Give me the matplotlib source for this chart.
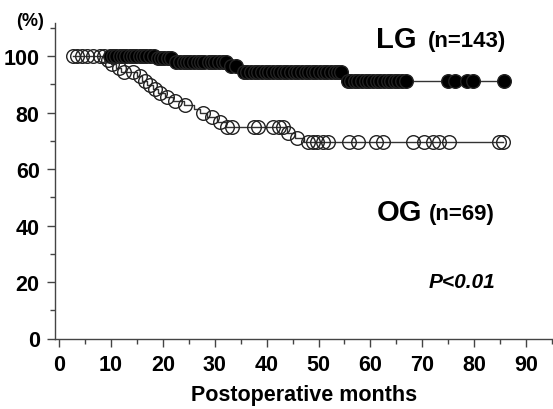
import numpy as np
import matplotlib.pyplot as plt
from matplotlib.ticker import MultipleLocator

plt.rcParams['font.family'] = ['Liberation Sans', 'DejaVu Sans']

# Kaplan-Meier steps: event times and survival (%) after each event
lg_event_t = [18.9, 22.4, 33.0, 35.5, 54.6]
lg_event_s = [99.3, 97.8, 96.4, 94.5, 91.3]
og_event_t = [8.8, 9.9, 11.0, 12.0, 15.0, 16.0, 17.0, 18.0, 19.0, 20.5,
              22.0, 24.0, 26.0, 27.2, 28.5, 30.5, 32.2, 44.0, 45.5, 47.2]
og_event_s = [98.6, 97.1, 95.7, 94.2, 92.8, 91.3, 89.9, 88.4, 87.0, 85.5,
              84.1, 82.6, 81.2, 79.7, 78.3, 76.8, 74.8, 72.8, 71.0, 69.5]

# follow-up marks (months)
lg_marks = [9.8, 10.4, 11.0, 11.7, 12.3, 12.9, 13.6, 14.2, 14.9, 15.5, 16.2,
            16.8, 17.5, 18.2, 19.0, 19.7, 20.3, 21.0, 21.6, 22.6, 23.3, 24.0,
            24.6, 25.3, 26.0, 26.7, 27.3, 28.0, 28.8, 29.5, 30.1, 30.8, 31.5,
            32.2, 33.1, 34.0, 35.6, 36.3, 37.0, 37.7, 38.4, 39.1, 39.8, 40.5,
            41.2, 41.9, 42.6, 43.3, 44.0, 44.7, 45.4, 46.1, 46.8, 47.5, 48.2,
            48.9, 49.6, 50.3, 51.0, 51.7, 52.4, 53.1, 53.8, 54.4, 55.6, 56.3,
            57.0, 57.7, 58.4, 59.1, 59.8, 60.5, 61.2, 61.9, 62.6, 63.3, 64.0,
            64.7, 65.4, 66.1, 66.8, 75.0, 76.4, 78.6, 79.7, 85.7]
og_marks = [2.6, 3.5, 4.4, 5.4, 6.6, 7.9, 8.6, 9.5, 10.2, 11.5, 12.5, 14.3,
            15.6, 16.6, 17.6, 18.5, 19.5, 20.8, 22.4, 24.3, 27.8, 29.5, 31.1,
            32.4, 33.3, 37.5, 38.4, 41.3, 42.3, 43.2, 44.2, 45.9, 47.9, 48.9,
            49.8, 50.8, 51.9, 55.8, 57.7, 61.0, 62.5, 68.3, 70.3, 72.0, 73.2,
            75.1, 84.7, 85.5]


def km_level(t, ev_t, ev_s):
    idx = np.searchsorted(ev_t, t, side='right')
    levels = np.concatenate([[100.0], ev_s])
    return levels[idx]


W, H = 553, 410
fig = plt.figure(figsize=(W / 100, H / 100), dpi=100)
ax = fig.add_axes([55 / W, 1 - 339.5 / H, 498 / W, 315.5 / H])

for ev_t, ev_s, marks, face, z in [
        (og_event_t, og_event_s, og_marks, 'none', 2),
        (lg_event_t, lg_event_s, lg_marks, 'black', 3)]:
    t_end = max(marks)
    xs = np.concatenate([[min(marks)], ev_t, [t_end]])
    ys = np.concatenate([[100.0], ev_s, [ev_s[-1]]])
    ax.step(xs, ys, where='post', color='#333333', lw=1.0, zorder=z)
    m = np.array(marks)
    ax.plot(m, km_level(m, ev_t, ev_s), 'o', ms=9.8, mfc=face,
            mec='#222222', mew=1.0, ls='none', zorder=z)

ax.set_xlim(-0.8, 95.2)
ax.set_ylim(0, 111.7)
ax.xaxis.set_major_locator(MultipleLocator(10))
ax.xaxis.set_minor_locator(MultipleLocator(5))
ax.yaxis.set_major_locator(MultipleLocator(20))
ax.yaxis.set_minor_locator(MultipleLocator(10))
for s in ['top', 'right']:
    ax.spines[s].set_visible(False)
for s in ['left', 'bottom']:
    ax.spines[s].set_color('#444444')
    ax.spines[s].set_linewidth(1.0)
ax.tick_params(which='major', length=6, width=1, color='#444444',
               labelsize=15.5, pad=5)
ax.tick_params(which='minor', length=3.5, width=1, color='#444444')
for lab in ax.get_xticklabels() + ax.get_yticklabels():
    lab.set_fontweight('bold')

ax.set_xlabel('Postoperative months', fontsize=15.5, fontweight='bold', labelpad=7)


def px_text(x, y, s, **kw):
    fig.text(x / W, 1 - y / H, s, ha='left', va='center', fontweight='bold', **kw)


px_text(16, 22, '(%)', fontsize=13)
px_text(376, 40, 'LG', fontsize=21)
px_text(428, 42, '(n=143)', fontsize=16)
px_text(377, 213, 'OG', fontsize=21)
px_text(429, 215, '(n=69)', fontsize=16)
px_text(429, 283, 'P<0.01', fontsize=15, fontstyle='italic')

fig.savefig('out.png', dpi=100)
